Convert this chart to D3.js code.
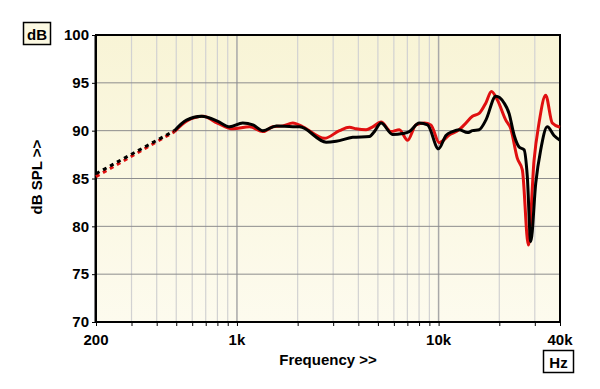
<!DOCTYPE html>
<html>
<head>
<meta charset="utf-8">
<script src="https://cdn.jsdelivr.net/npm/d3@7"></script>
<style>
  body { margin: 0; background: #fff; }
  text { font-family: "Liberation Sans", Arial, sans-serif; font-weight: bold; }
</style>
</head>
<body>
<div id="chart"></div>
<script>
// frequency response data (Hz, dB)
const blackDashed = [[200, 85.5], [490, 90.0]];
const redDashed = [[200, 85.2], [490, 89.9]];

const blackFreq = [490, 562, 667, 800, 921, 1068, 1200, 1345, 1567, 1893, 2044, 2770, 3105, 3751, 4538, 4803, 5185, 5916, 6632, 7158, 8022, 8818, 9992, 10874, 11722, 12648, 13904, 14720, 15886, 17152, 19218, 21122, 22360, 23680, 25060, 26540, 27540, 28640, 30320, 32100, 34600, 37340, 40000];
const blackDb = [90.0, 91.1, 91.5, 91.0, 90.4, 90.8, 90.6, 90.0, 90.5, 90.4, 90.4, 88.8, 88.9, 89.3, 89.4, 89.9, 90.8, 89.6, 89.7, 89.9, 90.8, 90.6, 88.1, 89.5, 89.9, 90.1, 89.8, 90.0, 90.1, 91.1, 93.6, 92.9, 91.8, 89.55, 88.3, 88.0, 85.2, 78.4, 84.5, 88.0, 90.4, 89.5, 89.0];

const redFreq = [490, 562, 680, 800, 956, 1156, 1345, 1508, 1690, 1893, 2122, 2718, 3224, 3611, 3900, 4370, 4711, 5185, 5808, 6387, 7021, 7725, 8492, 9162, 10072, 11290, 12648, 13392, 14720, 15886, 17152, 18280, 19572, 21540, 22800, 24580, 26020, 27860, 29740, 31480, 33960, 36620, 40000];
const redDb = [89.9, 91.0, 91.5, 90.8, 90.2, 90.4, 89.9, 90.4, 90.5, 90.8, 90.4, 89.2, 90.0, 90.35, 90.2, 90.1, 90.4, 90.9, 89.9, 90.1, 89.0, 90.6, 90.8, 90.6, 88.75, 89.55, 90.1, 90.6, 91.5, 91.8, 92.9, 94.1, 93.2, 91.1, 90.2, 87.1, 85.9, 78.05, 86.9, 90.8, 93.7, 90.8, 90.35];

const yTicks = [70, 75, 80, 85, 90, 95, 100];
const gridFreqs = [300, 400, 500, 600, 700, 800, 900, 1000, 2000, 3000, 4000, 5000, 6000, 7000, 8000, 9000, 10000, 20000, 30000];
const xLabels = [[200, "200"], [1000, "1k"], [10000, "10k"], [40000, "40k"]];

var svgwidth = 600, svgheight = 389;
var pLeft = 96, pRight = 560, pTop = 35, pBottom = 322;

var svg = d3.select("#chart").append("svg")
    .attr("width", svgwidth)
    .attr("height", svgheight);

var defs = svg.append("defs");
var grad = defs.append("linearGradient").attr("id", "bg")
    .attr("x1", 0).attr("y1", 0).attr("x2", 0).attr("y2", 1);
grad.append("stop").attr("offset", "0%").attr("stop-color", "#f8f4d6");
grad.append("stop").attr("offset", "100%").attr("stop-color", "#fdfbee");

var x = d3.scaleLog().domain([200, 40000]).range([pLeft, pRight]);
var y = d3.scaleLinear().domain([70, 100]).range([pBottom, pTop]);

svg.append("rect")
    .attr("x", pLeft).attr("y", pTop)
    .attr("width", pRight - pLeft).attr("height", pBottom - pTop)
    .attr("fill", "url(#bg)");

// vertical grid
svg.append("g").selectAll("line")
    .data(gridFreqs)
    .join("line")
    .attr("x1", d => x(d)).attr("x2", d => x(d))
    .attr("y1", pTop).attr("y2", pBottom)
    .attr("stroke", d => (d === 1000 || d === 10000) ? "#a8a8a8" : "#d2d2d2")
    .attr("stroke-width", d => (d === 1000 || d === 10000) ? 1.5 : 1.2);

// horizontal grid
svg.append("g").selectAll("line")
    .data(yTicks.filter(d => d > 70 && d < 100))
    .join("line")
    .attr("x1", pLeft).attr("x2", pRight)
    .attr("y1", d => y(d)).attr("y2", d => y(d))
    .attr("stroke", "#8c8c8c")
    .attr("stroke-width", 1);

// axes
var yaxis = d3.axisLeft(y).tickValues(yTicks).tickSize(4).tickPadding(3);
var gy = svg.append("g").attr("transform", `translate(${pLeft},0)`).call(yaxis);
gy.select(".domain").remove();
gy.selectAll("text").attr("font-size", 15).attr("fill", "#000")
    .style("font-family", "'Liberation Sans', Arial, sans-serif");

var xaxis = d3.axisBottom(x).tickValues([200].concat(gridFreqs, [40000])).tickSize(4).tickFormat("");
var gx = svg.append("g").attr("transform", `translate(0,${pBottom})`).call(xaxis);
gx.select(".domain").remove();

svg.append("g").selectAll("text")
    .data(xLabels)
    .join("text")
    .attr("x", d => x(d[0]))
    .attr("y", 345)
    .attr("text-anchor", "middle")
    .attr("font-size", 15)
    .text(d => d[1]);

// frame
svg.append("rect")
    .attr("x", pLeft).attr("y", pTop)
    .attr("width", pRight - pLeft).attr("height", pBottom - pTop)
    .attr("fill", "none").attr("stroke", "#000").attr("stroke-width", 2);
svg.append("line")
    .attr("x1", pLeft - 0.5).attr("x2", pLeft - 0.5)
    .attr("y1", pTop).attr("y2", pBottom)
    .attr("stroke", "#000").attr("stroke-width", 2);

// curves
var curve = d3.line()
    .x(d => x(d[0]))
    .y(d => y(d[1]))
    .curve(d3.curveMonotoneX);

const redData = redFreq.map((f, i) => [f, redDb[i]]);
const blackData = blackFreq.map((f, i) => [f, blackDb[i]]);

var plot = svg.append("g");

plot.append("path").datum(redDashed)
    .attr("d", curve)
    .attr("fill", "none").attr("stroke", "#e01010").attr("stroke-width", 3)
    .attr("stroke-dasharray", "4,4");
plot.append("path").datum(blackDashed)
    .attr("d", curve)
    .attr("fill", "none").attr("stroke", "#000").attr("stroke-width", 3)
    .attr("stroke-dasharray", "4,4");

plot.append("path").datum(redData)
    .attr("d", curve)
    .attr("fill", "none").attr("stroke", "#e01010").attr("stroke-width", 3)
    .attr("stroke-linejoin", "round");
plot.append("path").datum(blackData)
    .attr("d", curve)
    .attr("fill", "none").attr("stroke", "#000").attr("stroke-width", 3)
    .attr("stroke-linejoin", "round");

// unit boxes
svg.append("rect")
    .attr("x", 23.5).attr("y", 22.5).attr("width", 27).attr("height", 22)
    .attr("fill", "#fcf9e2").attr("stroke", "#000").attr("stroke-width", 1.5);
svg.append("text")
    .attr("x", 37).attr("y", 39.5)
    .attr("text-anchor", "middle").attr("font-size", 15)
    .text("dB");

svg.append("rect")
    .attr("x", 543.5).attr("y", 350.5).attr("width", 30).attr("height", 22)
    .attr("fill", "#fff").attr("stroke", "#000").attr("stroke-width", 1.5);
svg.append("text")
    .attr("x", 558.5).attr("y", 367.5)
    .attr("text-anchor", "middle").attr("font-size", 15)
    .text("Hz");

// axis titles
svg.append("text")
    .attr("x", (pLeft + pRight) / 2).attr("y", 365)
    .attr("text-anchor", "middle").attr("font-size", 15)
    .text("Frequency >>");

svg.append("text")
    .attr("transform", `translate(42,177) rotate(-90)`)
    .attr("text-anchor", "middle").attr("font-size", 15)
    .text("dB SPL >>");
</script>
</body>
</html>
